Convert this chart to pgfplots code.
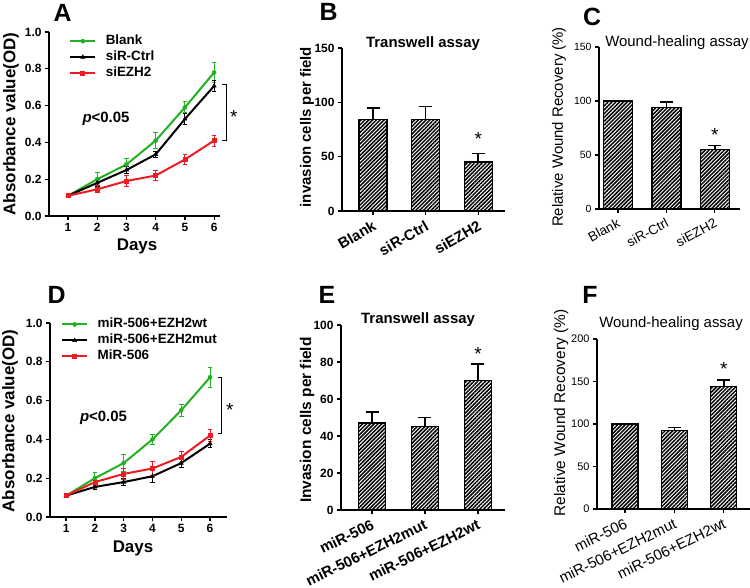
\documentclass[border=0pt]{standalone}
\usepackage{fontspec}
\setmainfont{Liberation Sans}
\usepackage{pgfplots}
\pgfplotsset{compat=1.18}
\usetikzlibrary{patterns.meta}
\definecolor{cgreen}{RGB}{34,177,34}
\definecolor{cred}{RGB}{236,28,36}
\newcommand{\fs}[1]{\fontsize{#1}{#1}\selectfont}

\pgfplotsset{
 panel/.style={scale only axis, axis lines=left, axis line style={-, line width=1.5bp},
   tick align=outside, major tick length=4bp,
   every tick/.append style={black, line width=1.3bp},
   clip=false, /pgf/number format/assume math mode=true, ymin=0},
 lineplot/.style={panel, xtick={1,2,3,4,5,6}, ytick={0,0.2,0.4,0.6,0.8,1}, ymax=1,
   tick label style={font=\bfseries\fs{12}},
   yticklabel style={/pgf/number format/.cd,fixed,fixed zerofill,precision=1},
   xlabel={Days}, ylabel={Absorbance value(OD)},
   label style={font=\bfseries\fs{17}},
   legend cell align=left,
   legend style={draw=none, fill=none, anchor=north west, font=\bfseries\fs{13.5},
     row sep=2bp, nodes={inner sep=0.5bp, text height=10bp, text depth=3bp},
     /tikz/every odd column/.append style={column sep=9bp}},
   legend image code/.code={\draw[mark repeat=2,mark phase=2,##1] plot coordinates {(0bp,0bp)(12.5bp,0bp)(25bp,0bp)};}},
 ln/.style={line width=2bp, mark options={solid, line width=0.6bp},
   error bars/y dir=both, error bars/y explicit,
   error bars/error bar style={line width=1bp},
   error bars/error mark options={rotate=90, mark size=2.3bp, line width=1bp}},
 barplot/.style={panel, ybar, enlargelimits=false, xtick={0,1,2}},
 br/.style={draw=black, line width=1.3bp, pattern={Lines[angle=45,distance=2.7bp,line width=1.5bp]}, pattern color=black,
   error bars/y dir=plus, error bars/y explicit,
   error bars/error bar style={line width=1.5bp, black},
   error bars/error mark options={rotate=90, mark size=6.5bp, line width=1.5bp, black}},
}

\begin{document}
\begin{tikzpicture}
\useasboundingbox (0,0) rectangle (750bp,588bp);

% Panel letters
\node[font=\bfseries\fs{25}] at (62.5bp,575.5bp) {A};
\node[font=\bfseries\fs{25}] at (328.5bp,576.5bp) {B};
\node[font=\bfseries\fs{25}] at (592bp,571.5bp) {C};
\node[font=\bfseries\fs{25}] at (56.5bp,293bp) {D};
\node[font=\bfseries\fs{25}] at (327bp,293bp) {E};
\node[font=\bfseries\fs{25}] at (590bp,293bp) {F};

% ---------------- A ----------------
\begin{axis}[lineplot, at={(49bp,372bp)}, anchor=south west, width=171bp, height=184bp,
  xmin=0.35, xmax=6.2,
  xlabel style={at={(axis description cs:0.515,-0.168)}, anchor=center},
  ylabel style={at={(axis description cs:-0.222,0.5)}, anchor=center},
  legend style={at={(axis description cs:0.10,1.0)}}]
\addplot[cgreen, mark=*, mark size=2bp, ln] coordinates {
 (1,0.11) +- (0,0.005) (2,0.20) +- (0,0.035) (3,0.28) +- (0,0.035)
 (4,0.41) +- (0,0.045) (5,0.59) +- (0,0.03) (6,0.78) +- (0,0.055)};
\addlegendentry{Blank}
\addplot[black, mark=triangle*, mark size=2.3bp, ln] coordinates {
 (1,0.11) +- (0,0.005) (2,0.18) +- (0,0.02) (3,0.25) +- (0,0.02)
 (4,0.335) +- (0,0.015) (5,0.527) +- (0,0.03) (6,0.707) +- (0,0.03)};
\addlegendentry{siR-Ctrl}
\addplot[cred, mark=square*, mark size=2bp, ln] coordinates {
 (1,0.11) +- (0,0.005) (2,0.145) +- (0,0.02) (3,0.19) +- (0,0.03)
 (4,0.22) +- (0,0.025) (5,0.307) +- (0,0.025) (6,0.41) +- (0,0.03)};
\addlegendentry{siEZH2}
\node[font=\bfseries\fs{15}] at (axis cs:2.3,0.53) {\textit{p}<0.05};
\draw[line width=1bp] (axis cs:6.27,0.717) -- (axis cs:6.41,0.717) -- (axis cs:6.41,0.413) -- (axis cs:6.27,0.413);
\node[font=\fs{19}, anchor=north, inner sep=0pt] at (axis cs:6.67,0.576) {*};
\end{axis}

% ---------------- B ----------------
\begin{axis}[barplot, at={(342bp,377bp)}, anchor=south west, width=163bp, height=163bp,
  xmin=-0.59, xmax=2.51, ymax=150, ytick={0,50,100,150}, bar width=28bp,
  xticklabels={Blank,siR-Ctrl,siEZH2},
  xticklabel style={rotate=30, anchor=north east, font=\bfseries\fs{15}},
  yticklabel style={font=\bfseries\fs{12}},
  ylabel={invasion cells per field},
  ylabel style={at={(axis description cs:-0.215,0.515)}, anchor=center, font=\bfseries\fs{15}},
  title={Transwell assay},
  title style={at={(axis description cs:0.497,0.969)}, anchor=base, font=\bfseries\fs{15}}]
\addplot[br] coordinates {(0,84) +- (0,11) (1,84) +- (0,12) (2,45) +- (0,8)};
\node[font=\fs{19}, anchor=north, inner sep=0pt] at (axis cs:2,72.7) {*};
\end{axis}

% ---------------- C ----------------
\begin{axis}[barplot, at={(599bp,379bp)}, anchor=south west, width=141bp, height=162bp,
  xmin=-0.39, xmax=2.52, ymax=150, ytick={0,50,100,150}, bar width=29bp,
  xticklabels={Blank,siR-Ctrl,siEZH2},
  xticklabel style={rotate=28, anchor=north east, font=\fs{13.5}},
  yticklabel style={font=\fs{10.5}},
  ylabel={Relative Wound Recovery (\%)},
  ylabel style={at={(axis description cs:-0.284,0.506)}, anchor=center, font=\fs{15}},
  title={Wound-healing assay},
  title style={at={(axis description cs:0.553,0.969)}, anchor=base, font=\fs{15}}]
\addplot[br] coordinates {(0,100) +- (0,0) (1,94) +- (0,5) (2,55) +- (0,4)};
\node[font=\fs{19}, anchor=north, inner sep=0pt] at (axis cs:2,75) {*};
\end{axis}

% ---------------- D ----------------
\begin{axis}[lineplot, at={(50bp,71bp)}, anchor=south west, width=177bp, height=194bp,
  xmin=0.44, xmax=6.59,
  xlabel style={at={(axis description cs:0.469,-0.16)}, anchor=center},
  ylabel style={at={(axis description cs:-0.226,0.495)}, anchor=center},
  legend style={at={(axis description cs:0.045,1.04)}}]
\addplot[cgreen, mark=*, mark size=2bp, ln] coordinates {
 (1,0.11) +- (0,0.005) (2,0.20) +- (0,0.03) (3,0.278) +- (0,0.045)
 (4,0.40) +- (0,0.025) (5,0.55) +- (0,0.03) (6,0.72) +- (0,0.05)};
\addlegendentry{miR-506+EZH2wt}
\addplot[black, mark=triangle*, mark size=2.3bp, ln] coordinates {
 (1,0.11) +- (0,0.005) (2,0.155) +- (0,0.015) (3,0.18) +- (0,0.02)
 (4,0.21) +- (0,0.03) (5,0.278) +- (0,0.025) (6,0.378) +- (0,0.02)};
\addlegendentry{miR-506+EZH2mut}
\addplot[cred, mark=square*, mark size=2bp, ln] coordinates {
 (1,0.11) +- (0,0.005) (2,0.18) +- (0,0.02) (3,0.222) +- (0,0.03)
 (4,0.25) +- (0,0.035) (5,0.31) +- (0,0.03) (6,0.42) +- (0,0.03)};
\addlegendentry{MiR-506}
\node[font=\bfseries\fs{15}] at (axis cs:2.3,0.51) {\textit{p}<0.05};
\draw[line width=1bp] (axis cs:6.27,0.72) -- (axis cs:6.41,0.72) -- (axis cs:6.41,0.428) -- (axis cs:6.27,0.428);
\node[font=\fs{19}, anchor=north, inner sep=0pt] at (axis cs:6.69,0.588) {*};
\end{axis}

% ---------------- E ----------------
\begin{axis}[barplot, at={(341bp,78bp)}, anchor=south west, width=164bp, height=185bp,
  xmin=-0.585, xmax=2.51, ymax=100, ytick={0,20,40,60,80,100}, bar width=27bp,
  xticklabels={miR-506,miR-506+EZH2mut,miR-506+EZH2wt},
  xticklabel style={rotate=26, anchor=north east, font=\bfseries\fs{15}},
  yticklabel style={font=\bfseries\fs{12}},
  ylabel={Invasion cells per field},
  ylabel style={at={(axis description cs:-0.207,0.486)}, anchor=center, font=\bfseries\fs{15.5}},
  title={Transwell assay},
  title style={at={(axis description cs:0.47,0.978)}, anchor=base, font=\bfseries\fs{15}}]
\addplot[br] coordinates {(0,47) +- (0,6) (1,45) +- (0,5) (2,70) +- (0,9)};
\node[font=\fs{19}, anchor=north, inner sep=0pt] at (axis cs:2,88) {*};
\end{axis}

% ---------------- F ----------------
\begin{axis}[barplot, at={(597bp,79bp)}, anchor=south west, width=153bp, height=170bp,
  xmin=-0.57, xmax=2.53, ymax=200, ytick={0,50,100,150,200}, bar width=26bp,
  xticklabels={miR-506,miR-506+EZH2mut,miR-506+EZH2wt},
  xticklabel style={rotate=26, anchor=north east, font=\fs{15}},
  yticklabel style={font=\fs{11}},
  ylabel={Relative Wound Recovery (\%)},
  ylabel style={at={(axis description cs:-0.235,0.565)}, anchor=center, font=\fs{15.5}},
  title={Wound-healing assay},
  title style={at={(axis description cs:0.484,1.035)}, anchor=base, font=\fs{15}}]
\addplot[br] coordinates {(0,100) +- (0,0) (1,92) +- (0,4) (2,144) +- (0,8)};
\node[font=\fs{19}, anchor=north, inner sep=0pt] at (axis cs:2,173) {*};
\end{axis}
\end{tikzpicture}
\end{document}
